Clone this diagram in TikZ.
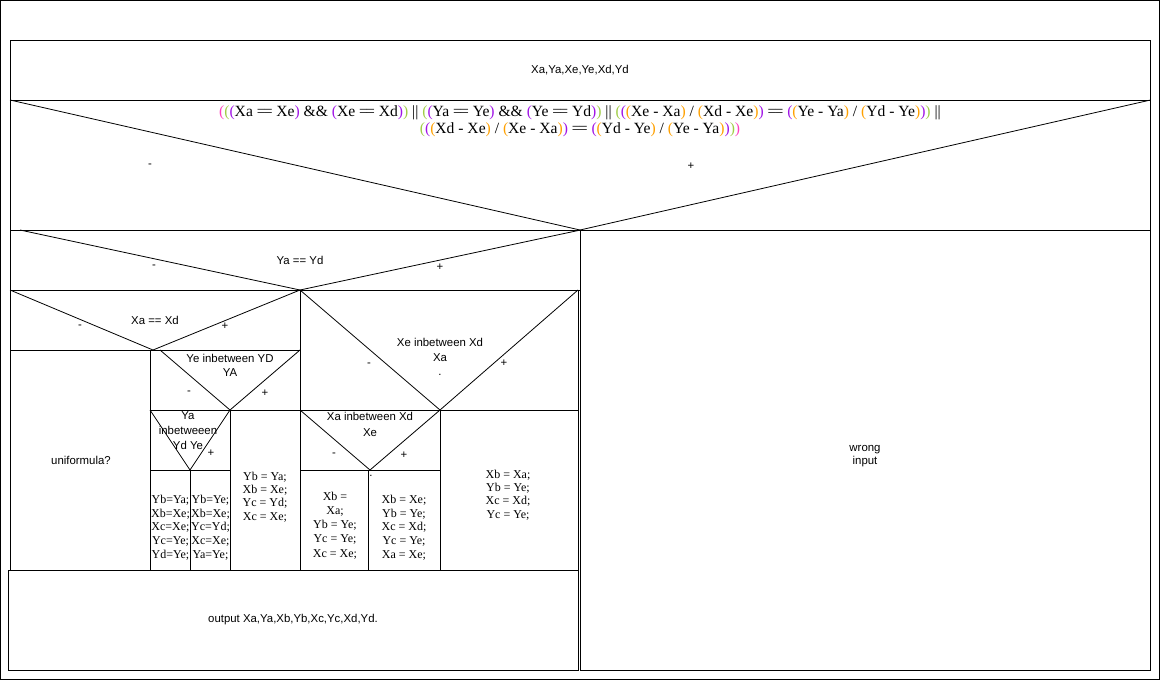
\documentclass[tikz,border=0pt]{standalone}
\usepackage{fontspec}
\setmainfont{Liberation Sans}
\newfontfamily\serf{Liberation Serif}
\definecolor{cpink}{RGB}{255,64,190}
\definecolor{cgreen}{RGB}{160,205,70}
\definecolor{cpurple}{RGB}{160,20,230}
\definecolor{corange}{RGB}{255,160,0}
\newcommand\rbA[1]{\textcolor{cpink}{#1}}
\newcommand\rbB[1]{\textcolor{cgreen}{#1}}
\newcommand\rbC[1]{\textcolor{cpurple}{#1}}
\newcommand\rbD[1]{\textcolor{corange}{#1}}
\newcommand\eqq{=\kern-0.12em=}
\begin{document}
\begin{tikzpicture}[x=1pt,y=-1pt,
  box/.style={draw=black,line width=0.9pt},
  diag/.style={draw=black,line width=0.8pt},
  lbl/.style={inner sep=0pt,font=\fontsize{11.4}{14}\selectfont,align=center},
  cell/.style={inner sep=0pt,font=\serf\fontsize{12}{13.75}\selectfont,align=center},
  cellb/.style={inner sep=0pt,font=\serf\fontsize{12}{13.3}\selectfont,align=center},
  frm/.style={inner sep=0pt,font=\serf\fontsize{15.6}{17}\selectfont,align=center}]
\useasboundingbox (0,0) rectangle (1162,681);
% outer border
\draw[box] (0.5,0.5) rectangle (1159,679);
% row 1
\draw[box] (10,40) rectangle (1150.5,100);
% row 2 condition
\draw[box] (10,100) rectangle (1150.5,230);
\draw[diag] (10,100) -- (580,230) -- (1150.5,100);
% right column
\draw[box] (580.5,230) rectangle (1150.5,670);
% Ya == Yd
\draw[box] (10,230) rectangle (580.5,290);
\draw[diag] (20,230) -- (300,290) -- (580.5,230);
% Xa == Xd
\draw[box] (10,290) rectangle (300,350);
\draw[diag] (10,290) -- (153,350) -- (300,290);
% Xe inbetween
\draw[box] (300,290) rectangle (578,410);
\draw[diag] (300,290) -- (440,410) -- (578,290);
% uniformula
\draw[box] (10,350) rectangle (150,570);
% Ye inbetween
\draw[box] (150,350) rectangle (300,410);
\draw[diag] (160,350) -- (230,410) -- (300,350);
% Ya inbetweeen
\draw[box] (150,410) rectangle (230,470);
\draw[diag] (150,410) -- (190,470) -- (230,410);
\draw[box] (150,470) rectangle (190,570);
\draw[box] (190,470) rectangle (230,570);
\draw[box] (230,410) rectangle (300,570);
% Xa inbetween
\draw[box] (300,410) rectangle (440,470);
\draw[diag] (300,410) -- (370,470) -- (440,410);
\draw[box] (300,470) rectangle (368,570);
\draw[box] (368,470) rectangle (440,570);
\draw[box] (440,410) rectangle (578,570);
% output
\draw[box] (8,570) rectangle (578,670);

% texts
\node[lbl] (inp) at (580,70) {Xa,Ya,Xe,Ye,Xd,Yd};
\node[frm] (cond) at (580,121) {%
\rbA{(}\rbB{(}\rbC{(}Xa \eqq{} Xe\rbC{)} \&\& \rbC{(}Xe \eqq{} Xd\rbC{)}\rbB{)} || \rbB{(}\rbC{(}Ya \eqq{} Ye\rbC{)} \&\& \rbC{(}Ye \eqq{} Yd\rbC{)}\rbB{)} || \rbB{(}\rbC{(}\rbD{(}Xe - Xa\rbD{)} / \rbD{(}Xd - Xe\rbD{)}\rbC{)} \eqq{} \rbC{(}\rbD{(}Ye - Ya\rbD{)} / \rbD{(}Yd - Ye\rbD{)}\rbC{)}\rbB{)} ||\\
\rbB{(}\rbC{(}\rbD{(}Xd - Xe\rbD{)} / \rbD{(}Xe - Xa\rbD{)}\rbC{)} \eqq{} \rbC{(}\rbD{(}Yd - Ye\rbD{)} / \rbD{(}Ye - Ya\rbD{)}\rbC{)}\rbB{)}\rbA{)}};
\node[lbl] (cm) at (150,166) {-};
\node[lbl] (cp) at (691,166) {+};
\node[lbl] (yay) at (300,260) {Ya == Yd};
\node[lbl] (yaym) at (154,267) {-};
\node[lbl] (yayp) at (440,267) {+};
\node[lbl] (xax) at (155,320) {Xa == Xd};
\node[lbl] (xaxm) at (80,327) {-};
\node[lbl] (xaxp) at (225,326) {+};
\node[lbl] (yein) at (230,365) {Ye inbetween YD\\YA};
\node[lbl] (yeinm) at (189,393) {-};
\node[lbl] (yeinp) at (265,393) {+};
\node[lbl] (uni) at (81,460) {uniformula?};
\node[lbl,font=\fontsize{11.4}{15}\selectfont] (yain) at (188,431) {Ya\\inbetweeen\\Yd Ye};
\node[lbl] (yainp) at (211,453) {+};
\node[cell] (c1) at (170.5,527.5) {Yb=Ya;\\Xb=Xe;\\Xc=Xe;\\Yc=Ye;\\Yd=Ye;};
\node[cell] (c2) at (210.5,527.5) {Yb=Ye;\\Xb=Xe;\\Yc=Yd;\\Xc=Xe;\\Ya=Ye;};
\node[cellb] (c3) at (265,497) {Yb = Ya;\\Xb = Xe;\\Yc = Yd;\\Xc = Xe;};
\node[lbl,font=\fontsize{11.4}{14.5}\selectfont] (xein) at (440,357) {Xe inbetween Xd\\Xa\\.};
\node[lbl] (xeinm) at (369,365) {-};
\node[lbl] (xeinp) at (504,363) {+};
\node[lbl,font=\fontsize{11.4}{16}\selectfont] (xain) at (370,424) {Xa inbetween Xd\\Xe};
\node[lbl] (xainm) at (334,455) {-};
\node[lbl] (xainp) at (404,455) {+};
\node[lbl] (dot) at (371,476) {.};
\node[cell,font=\serf\fontsize{12}{14.2}\selectfont] (c4) at (335,525.5) {Xb =\\Xa;\\Yb = Ye;\\Yc = Ye;\\Xc = Xe;};
\node[cell] (c5) at (404,527.5) {Xb = Xe;\\Yb = Ye;\\Xc = Xd;\\Yc = Ye;\\Xa = Xe;};
\node[cellb] (c6) at (508,495) {Xb = Xa;\\Yb = Ye;\\Xc = Xd;\\Yc = Ye;};
\node[lbl] (out) at (293,620) {output Xa,Ya,Xb,Yb,Xc,Yc,Xd,Yd.};
\node[lbl,font=\fontsize{11.4}{13}\selectfont] (wrong) at (865,456.5) {wrong\\input};
\end{tikzpicture}
\end{document}
